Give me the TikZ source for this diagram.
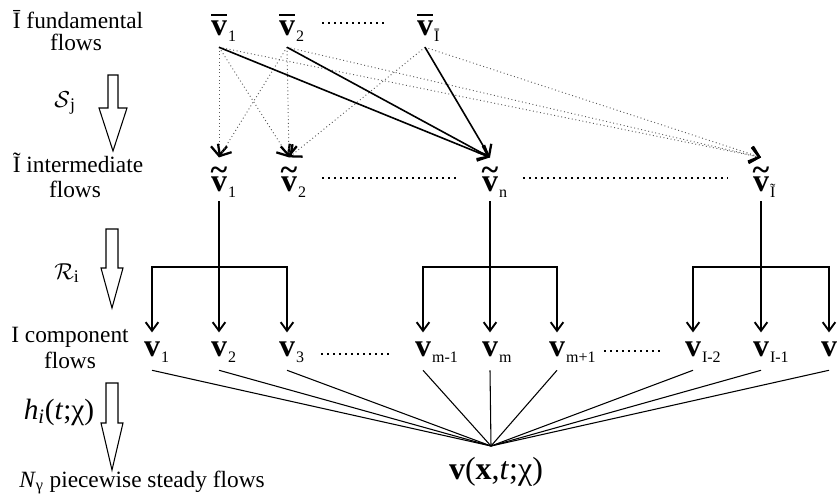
\documentclass[tikz,border=0pt]{standalone}
\usepackage{fontspec}
\setmainfont{Liberation Serif}
\usetikzlibrary{arrows.meta}

% bold flow symbols with a bar / tilde on top, and a low subscript that takes no width
\newcommand{\barv}{\textbf{v}\llap{\rule[0.6em]{0.5em}{0.07em}}}
\newcommand{\tilv}{\textbf{v}\llap{\makebox[0.5em][c]{\raisebox{0.34em}{\textbf{\char"7E}}}}}
\newcommand{\plainv}{\textbf{v}}
\newcommand{\lowsub}[1]{\rlap{\hspace{0.8pt}\smash{\raisebox{-5pt}{\fontsize{12}{12}\selectfont #1}}}}

\tikzset{
  bigtip/.tip={Straight Barb[length=7pt,width=12pt,line width=1.7pt,color=black]},
  smalltip/.tip={Straight Barb[length=6.5pt,width=9.5pt,line width=1.4pt]},
  flowbase/.style={anchor=base, inner sep=0pt, font=\fontsize{24}{24}\selectfont},
  toprow/.style={flowbase, text height=16pt, text depth=9pt},
  midrow/.style={flowbase, text height=25pt, text depth=7.5pt},
  lowrow/.style={flowbase, text height=17.5pt, text depth=10.5pt},
  lbl/.style={anchor=base, inner sep=0pt, font=\fontsize{17.5}{17.5}\selectfont},
  oplbl/.style={anchor=base, inner sep=0pt, font=\fontsize{19}{19}\selectfont},
  strong/.style={-bigtip, line width=1.2pt},
  weak/.style={-bigtip, dotted, line width=0.7pt, draw=black!65},
  branch/.style={line width=1.1pt},
  fanline/.style={line width=0.8pt},
  ellip/.style={line width=0.8pt, dash pattern=on 1.5pt off 3pt},
  hollow/.style={line width=0.8pt, fill=white},
}

\begin{document}
\begin{tikzpicture}[x=0.75pt, y=-0.75pt]
\useasboundingbox (0,0) rectangle (838,496);

% left column: level captions
\node[lbl] (fundA) at (78,28) {Ī fundamental};
\node[lbl] (fundB) at (76,50) {flows};
\node[lbl] (intA) at (78,172) {Ĩ intermediate};
\node[lbl] (intB) at (75,197) {flows};
\node[lbl] (compA) at (70,342) {I component};
\node[lbl] (compB) at (70,368) {flows};
\node[lbl] (steady) at (142,487) {\textit{N}\textsubscript{γ} piecewise steady flows};

% operators between the levels
\node[oplbl] (opS) at (65,107) {$\mathcal{S}$\textsubscript{j}};
\node[oplbl] (opR) at (67,279) {$\mathcal{R}$\textsubscript{i}};
\node[oplbl, font=\fontsize{22}{22}\selectfont] (opH) at (59,419)
  {\textit{h}\textsubscript{\textit{i}}(\textit{t};χ)};

\draw[hollow] (108,75) -- (118,75) -- (118,108) -- (127,108) -- (113,151)
  -- (99,108) -- (108,108) -- cycle;
\draw[hollow] (106,229) -- (118,229) -- (118,268) -- (123,268) -- (112,308)
  -- (101,268) -- (106,268) -- cycle;
\draw[hollow] (106,383) -- (118,383) -- (118,423) -- (123,423) -- (112,470)
  -- (101,423) -- (106,423) -- cycle;

% fundamental flows
\node[toprow] (b1) at (219,35) {\barv\lowsub{1}};
\node[toprow] (b2) at (287,35) {\barv\lowsub{2}};
\node[toprow] (bI) at (425,35) {\barv\lowsub{Ī}};
\draw[ellip] (322,23) -- (388,23);

% intermediate flows
\node[midrow] (t1) at (219,191) {\tilv\lowsub{1}};
\node[midrow] (t2) at (289,191) {\tilv\lowsub{2}};
\node[midrow] (tn) at (490,191) {\tilv\lowsub{n}};
\node[midrow] (tI) at (761,191) {\tilv\lowsub{Ĩ}};
\draw[ellip] (322,178) -- (458,178);
\draw[ellip] (523,178) -- (728,178);

% S_j: fundamental -> intermediate
\draw[weak] (b1.south) -- (t1.north);
\draw[weak] (b1.south) -- (t2.north);
\draw[weak] (b1.south) -- (tI.north);
\draw[weak] (b2.south) -- (t1.north);
\draw[weak] (b2.south) -- (t2.north);
\draw[weak] (b2.south) -- (tI.north);
\draw[weak] (bI.south) -- (t2.north);
\draw[weak] (bI.south) -- (tI.north);
\draw[strong] (b1.south) -- (tn.north);
\draw[strong] (b2.south) -- (tn.north);
\draw[strong] (bI.south) -- (tn.north);

% component flows
\node[lowrow] (c1) at (152,356) {\plainv\lowsub{1}};
\node[lowrow] (c2) at (219,356) {\plainv\lowsub{2}};
\node[lowrow] (c3) at (287,356) {\plainv\lowsub{3}};
\node[lowrow] (cm1) at (423,356) {\plainv\lowsub{m-1}};
\node[lowrow] (cm) at (490,356) {\plainv\lowsub{m}};
\node[lowrow] (cm2) at (557,356) {\plainv\lowsub{m+1}};
\node[lowrow] (cI2) at (693,356) {\plainv\lowsub{I-2}};
\node[lowrow] (cI1) at (761,356) {\plainv\lowsub{I-1}};
\node[lowrow] (cI) at (829,356) {\plainv};
\draw[ellip] (321,354) -- (390,354);
\draw[ellip] (604,351) -- (660,351);

% R_i: intermediate -> component
\coordinate (barA) at (219,267);
\coordinate (barB) at (490,267);
\coordinate (barC) at (761,267);
\draw[branch, -smalltip] (t1.south) -- (c2.north);
\draw[branch, smalltip-smalltip] (c1.north) -- (c1.north |- barA) -- (c3.north |- barA) -- (c3.north);
\draw[branch, -smalltip] (tn.south) -- (cm.north);
\draw[branch, smalltip-smalltip] (cm1.north) -- (cm1.north |- barB) -- (cm2.north |- barB) -- (cm2.north);
\draw[branch, -smalltip] (tI.south) -- (cI1.north);
\draw[branch, smalltip-smalltip] (cI2.north) -- (cI2.north |- barC) -- (cI.north |- barC) -- (cI.north);

% h_i: component -> piecewise steady flow
\node[anchor=base, inner sep=0pt, font=\fontsize{24}{24}\selectfont] (res) at (496,479)
  {\textbf{v}(\textbf{x},\textit{t};χ)};
\coordinate (fan) at (491,446);
\foreach \n in {c1,c2,c3,cm1,cm,cm2,cI2,cI1,cI}
  \draw[fanline] (\n.south) -- (fan);
\end{tikzpicture}
\end{document}
